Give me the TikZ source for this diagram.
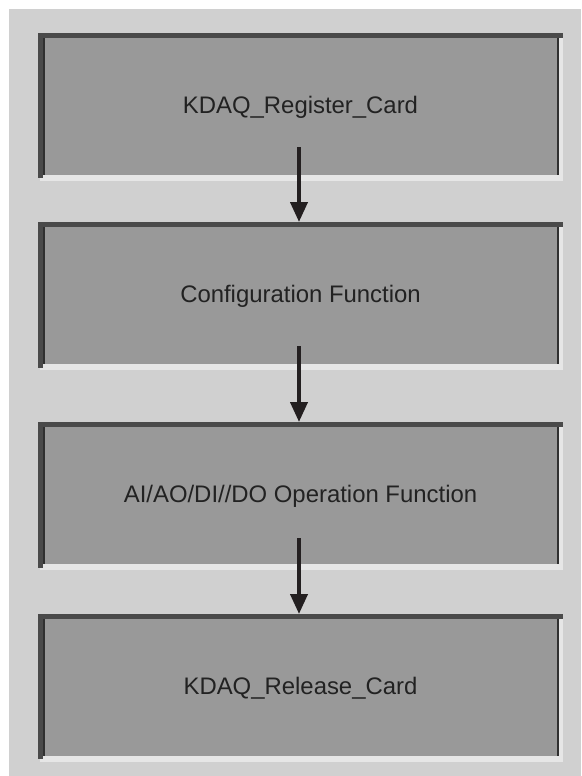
\documentclass[tikz,border=0pt]{standalone}
\usepackage{fontspec}
\setmainfont{Liberation Sans}
\usetikzlibrary{arrows.meta}
\definecolor{bgc}{HTML}{D0D0D0}
\definecolor{darkband}{HTML}{4A4A4A}
\definecolor{darkline}{HTML}{303030}
\definecolor{lightband}{HTML}{E6E6E6}
\definecolor{boxfill}{HTML}{999999}
\definecolor{arrowc}{HTML}{231F20}
\definecolor{textc}{HTML}{222222}
\newcommand{\bevelpanel}[2]{%
  % #1 top, #2 bottom
  \fill[lightband] (40,#1+3) rectangle (563,#2);
  \fill[darkband] (38,#1) rectangle (563,#1+4.7);
  \fill[darkband] (38,#1) rectangle (42.7,#2-2.4);
  \fill[darkline] (42.7,#1+4.7) rectangle (44.7,#2-5.7);
  \fill[darkline] (556.7,#1+4.7) rectangle (558.7,#2-5.7);
  \fill[boxfill] (44.7,#1+4.7) rectangle (556.7,#2-5.7);
}
\tikzset{
  label box/.style={inner sep=0pt, text=textc,
    font=\fontsize{23.9}{28}\selectfont, text height=17pt, text depth=5pt},
  flow arrow/.style={draw=arrowc, line width=4pt,
    -{Triangle[width=17pt,length=20pt]}}
}
\begin{document}
\begin{tikzpicture}[x=1pt,y=-1pt]
\useasboundingbox (0,0) rectangle (581,776);
\fill[white] (0,0) rectangle (581,776);
\fill[bgc] (9,9) rectangle (581,776);
\bevelpanel{33}{180.5}
\bevelpanel{222}{370}
\bevelpanel{422}{570}
\bevelpanel{614}{761.7}
\node[label box] (b1) at (300.5,107) {KDAQ\_Register\_Card};
\node[label box] (b2) at (300.5,296) {Configuration Function};
\node[label box] (b3) at (300.5,496) {AI/AO/DI//DO Operation Function};
\node[label box] (b4) at (300.5,688) {KDAQ\_Release\_Card};
\coordinate (a1) at (299,147);
\coordinate (t2) at (299,222);
\coordinate (a2) at (299,346);
\coordinate (t3) at (299,422);
\coordinate (a3) at (299,538);
\coordinate (t4) at (299,614);
\draw[flow arrow] (a1) -- (t2);
\draw[flow arrow] (a2) -- (t3);
\draw[flow arrow] (a3) -- (t4);
\end{tikzpicture}
\end{document}
